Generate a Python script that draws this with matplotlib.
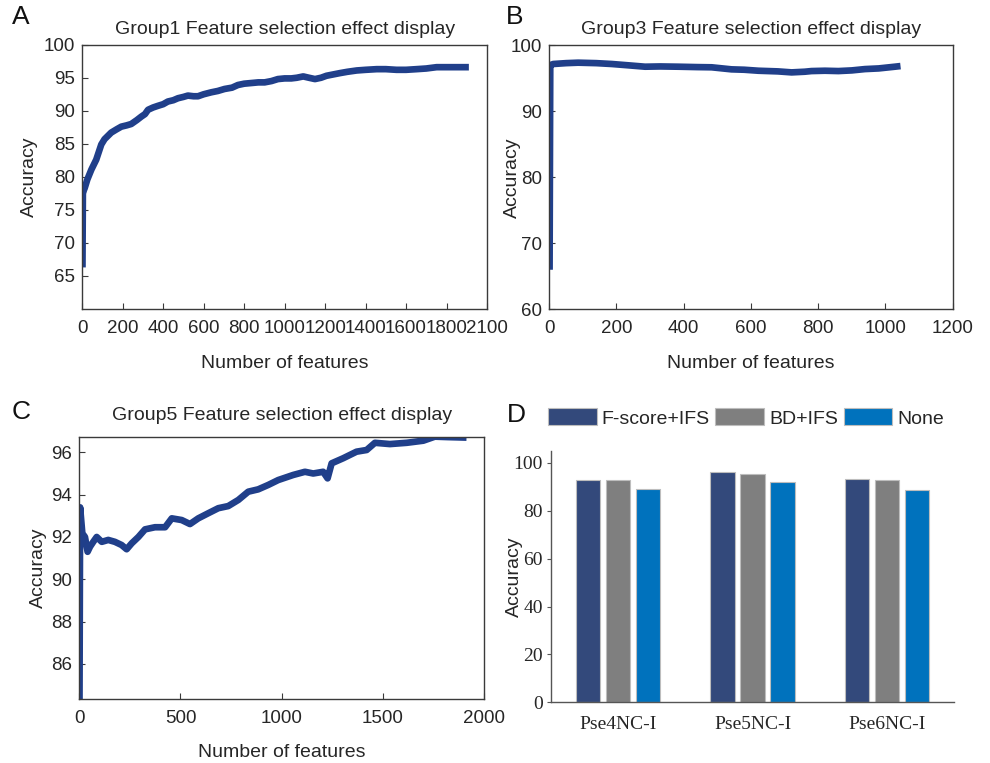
import matplotlib
matplotlib.use("Agg")
import matplotlib.pyplot as plt
from matplotlib.patches import Patch

# ---------------- data ----------------
# Panel A: Group1
xA = [1, 3, 8, 12, 25, 45, 69, 94, 110, 143, 170, 193, 220, 242, 270, 291, 310, 325, 350, 374,
      400, 423, 450, 473, 500, 522, 550, 572, 600, 638, 670, 703, 740, 769, 800, 835, 870, 901,
      935, 967, 1000, 1033, 1060, 1092, 1120, 1150, 1180, 1207, 1240, 1273, 1310, 1356, 1400,
      1455, 1500, 1553, 1600, 1652, 1700, 1751, 1800, 1850, 1894]
yA = [66.8, 77.5, 78.0, 78.3, 79.6, 81.1, 82.6, 84.9, 85.7, 86.7, 87.2, 87.6, 87.8, 88.0, 88.6,
      89.1, 89.5, 90.15, 90.5, 90.75, 91.0, 91.4, 91.6, 91.9, 92.1, 92.3, 92.2, 92.2, 92.5, 92.8,
      93.0, 93.3, 93.5, 93.9, 94.1, 94.2, 94.3, 94.3, 94.5, 94.8, 94.9, 94.9, 95.0, 95.2, 95.0,
      94.8, 95.0, 95.3, 95.5, 95.7, 95.9, 96.1, 96.2, 96.3, 96.3, 96.2, 96.2, 96.3, 96.4, 96.6,
      96.6, 96.6, 96.6]

# Panel B: Group3
xB = [1, 3, 12, 50, 86, 140, 186, 240, 285, 330, 384, 440, 483, 542, 580, 622, 680, 721, 760,
      780, 820, 860, 900, 939, 980, 1028, 1035]
yB = [66.5, 97.0, 97.17, 97.3, 97.37, 97.3, 97.17, 96.95, 96.76, 96.8, 96.76, 96.7, 96.67,
      96.36, 96.3, 96.15, 96.05, 95.9, 96.0, 96.1, 96.15, 96.1, 96.2, 96.4, 96.5, 96.76, 96.8]

# Panel C: Group5
xC = [1, 4, 15, 28, 41, 53, 69, 86, 111, 143, 176, 209, 234, 259, 292, 325, 374, 424, 457,
      506, 547, 588, 637, 687, 736, 786, 835, 884, 934, 983, 1057, 1115, 1156, 1205, 1227,
      1247, 1304, 1370, 1420, 1461, 1535, 1618, 1700, 1757, 1820, 1897]
yC = [84.33, 93.4, 92.17, 92.0, 91.3, 91.54, 91.77, 92.0, 91.77, 91.86, 91.77, 91.62, 91.42,
      91.7, 92.0, 92.36, 92.46, 92.46, 92.88, 92.8, 92.61, 92.88, 93.12, 93.36, 93.46, 93.75,
      94.14, 94.25, 94.46, 94.69, 94.93, 95.08, 95.0, 95.08, 94.77, 95.48, 95.72, 96.03, 96.11,
      96.45, 96.39, 96.45, 96.55, 96.74, 96.72, 96.7]

# Panel D: bar chart
categories = ["Pse4NC-I", "Pse5NC-I", "Pse6NC-I"]
series_names = ["F-score+IFS", "BD+IFS", "None"]
fscore_ifs = [92.9, 96.4, 93.2]
bd_ifs = [92.75, 95.5, 93.0]
none_vals = [89.2, 92.1, 88.75]

# ---------------- style ----------------
SANS = "Liberation Sans"
SERIF = "Liberation Serif"
plt.rcParams["font.family"] = SANS
TXT = "#262626"
SPINE = "#3a3a3a"
LINE = "#203F8A"
bar_colors = ["#33497B", "#7F7F7F", "#0072BD"]
LW = 4.8

fig = plt.figure(figsize=(9.9, 7.63), dpi=100)

def style_line_ax(ax):
    for s in ax.spines.values():
        s.set_color(SPINE)
        s.set_linewidth(1.0)
    ax.tick_params(direction="in", length=4, width=0.8, color=SPINE,
                   labelsize=13.5, labelcolor=TXT, top=False, right=False)
    ax.tick_params(axis="x", pad=8)
    ax.tick_params(axis="y", pad=5)

# A
axA = fig.add_axes([0.0831, 0.5950, 0.4088, 0.3464])
axA.plot(xA, yA, color=LINE, lw=LW, solid_joinstyle="round")
axA.set_xlim(0, 2000)
axA.set_ylim(60, 100)
axA.set_yticks([65, 70, 75, 80, 85, 90, 95, 100])
axA.set_xticks(list(range(0, 2001, 200)))
axA.set_xticklabels([str(v) for v in range(0, 1801, 200)] + ["2100"])
axA.set_title("Group1 Feature selection effect display", fontsize=14, color=TXT, pad=8)
axA.set_xlabel("Number of features", fontsize=14, color=TXT, labelpad=13)
axA.set_ylabel("Accuracy", fontsize=14, color=TXT, labelpad=4.5)
style_line_ax(axA)

# B
axB = fig.add_axes([0.5548, 0.5946, 0.4075, 0.3460])
axB.plot(xB, yB, color=LINE, lw=LW, solid_joinstyle="round")
axB.set_xlim(0, 1200)
axB.set_ylim(60, 100)
axB.set_yticks([60, 70, 80, 90, 100])
axB.set_xticks(list(range(0, 1201, 200)))
axB.set_title("Group3 Feature selection effect display", fontsize=14, color=TXT, pad=8)
axB.set_xlabel("Number of features", fontsize=14, color=TXT, labelpad=13)
axB.set_ylabel("Accuracy", fontsize=14, color=TXT, labelpad=-7.5)
style_line_ax(axB)

# C
axC = fig.add_axes([0.0801, 0.0835, 0.4088, 0.3442])
axC.plot(xC, yC, color=LINE, lw=LW, solid_joinstyle="round")
axC.set_xlim(0, 2000)
axC.set_ylim(84.33, 96.74)
axC.set_yticks([86, 88, 90, 92, 94, 96])
axC.set_xticks([0, 500, 1000, 1500, 2000])
axC.set_title("Group5 Feature selection effect display", fontsize=14, color=TXT, pad=12)
axC.set_xlabel("Number of features", fontsize=14, color=TXT, labelpad=12)
axC.set_ylabel("Accuracy", fontsize=14, color=TXT, labelpad=3)
style_line_ax(axC)

# D
axD = fig.add_axes([0.5566, 0.0796, 0.4071, 0.3293])
pos = [1, 2, 3]
off = 0.223
w = 0.18
for i, (vals, name) in enumerate(zip([fscore_ifs, bd_ifs, none_vals], series_names)):
    axD.bar([p + (i - 1) * off for p in pos], vals, width=w, color=bar_colors[i],
            edgecolor="#bdbdbd", linewidth=0.8, label=name, zorder=2)
axD.set_xlim(0.5, 3.5)
axD.set_ylim(0, 105)
axD.set_yticks([0, 20, 40, 60, 80, 100])
axD.set_xticks(pos)
axD.set_xticklabels(categories)
for s in ["top", "right"]:
    axD.spines[s].set_visible(False)
for s in ["left", "bottom"]:
    axD.spines[s].set_color("#555555")
    axD.spines[s].set_linewidth(1.0)
axD.tick_params(axis="x", direction="in", length=4, color="#555555", labelsize=14,
                labelcolor=TXT, pad=10)
axD.tick_params(axis="y", direction="out", length=3, color="#555555", labelsize=14,
                labelcolor=TXT, pad=3)
for lab in axD.get_xticklabels() + axD.get_yticklabels():
    lab.set_family(SERIF)
axD.set_ylabel("Accuracy", fontsize=14, color=TXT, labelpad=-7)

handles = [Patch(facecolor=c, edgecolor="#bdbdbd", linewidth=0.8) for c in bar_colors]
leg = fig.legend(handles, series_names, loc="center left", bbox_to_anchor=(548 / 990, 1 - 418 / 763),
                 ncol=3, frameon=False, fontsize=14, handlelength=2.5, handleheight=0.95,
                 handletextpad=0.25, columnspacing=0.3, borderaxespad=0, borderpad=0)
for t in leg.get_texts():
    t.set_color(TXT)

# Panel letters
for letter, (px, py) in {"A": (12, 17), "B": (506, 17), "C": (12, 412), "D": (507, 415)}.items():
    fig.text(px / 990, 1 - py / 763, letter, fontsize=19, color="#111111", va="center", ha="left")

fig.savefig("out.png", dpi=100)
